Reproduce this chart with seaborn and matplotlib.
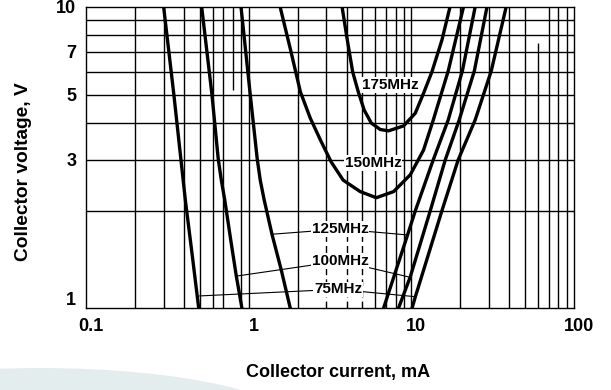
import matplotlib
matplotlib.use("Agg")
import matplotlib.pyplot as plt
import matplotlib.transforms as mtransforms
from matplotlib.patches import Ellipse
import pandas as pd
import seaborn as sns

# Constant transition-frequency contours (collector current in mA, collector voltage in V)
i_75_lo = [0.300, 0.347, 0.383, 0.408, 0.450, 0.493]
v_75_lo = [10.0, 4.99, 3.01, 2.18, 1.41, 0.93]
i_75_hi = [10.1, 10.6, 15.4, 19.4, 24.7, 31.0, 38.3]
v_75_hi = [0.93, 1.02, 2.00, 2.99, 4.10, 6.03, 10.0]

i_100_lo = [0.514, 0.595, 0.650, 0.679, 0.713, 0.776, 0.839, 0.909]
v_100_lo = [10.0, 4.99, 3.01, 2.55, 2.18, 1.59, 1.20, 0.93]
i_100_hi = [8.34, 9.85, 13.06, 16.16, 19.7, 24.4, 29.2]
v_100_hi = [0.93, 1.19, 2.00, 2.99, 4.10, 6.03, 10.0]

i_125_lo = [0.897, 1.023, 1.129, 1.178, 1.246, 1.391, 1.586, 1.802]
v_125_lo = [10.0, 4.99, 3.01, 2.55, 2.18, 1.665, 1.257, 0.93]
i_125_hi = [6.75, 9.48, 10.57, 13.63, 16.86, 20.6, 24.7]
v_125_hi = [0.93, 1.656, 2.00, 2.99, 4.10, 6.03, 10.0]

i_150 = [1.56, 1.81, 2.08, 2.39, 2.76, 3.22, 3.81, 4.85, 6.09, 7.78, 9.85, 11.88,
         13.65, 16.86, 20.94]
v_150 = [10.0, 7.11, 5.11, 4.16, 3.50, 2.94, 2.55, 2.33, 2.22, 2.33, 2.66, 3.23,
         4.10, 6.03, 10.0]

i_175 = [3.75, 4.04, 4.36, 4.72, 5.13, 5.67, 6.44, 7.24, 8.96, 10.57, 11.88, 13.39,
         15.42, 17.3]
v_175 = [10.0, 7.69, 5.98, 5.11, 4.43, 4.00, 3.80, 3.76, 3.91, 4.32, 5.05, 5.99,
         7.69, 10.0]

# Contour captions and where they sit
label_text = ["175MHz", "150MHz", "125MHz", "100MHz", "75MHz"]
label_i = [7.41, 5.81, 3.66, 3.66, 3.54]
label_v = [5.40, 2.92, 1.735, 1.349, 1.079]

# Leader lines: curve point -> caption -> curve point
leader_125_i = [1.391, 3.66, 9.44]
leader_125_v = [1.665, 1.735, 1.656]
leader_100_i = [0.847, 3.66, 9.85]
leader_100_v = [1.198, 1.349, 1.186]
leader_75_i = [0.499, 3.54, 10.57]
leader_75_v = [1.024, 1.079, 1.018]

x_ticks = [0.1, 1, 10, 100]
x_tick_labels = ["0.1", "1", "10", "100"]
y_ticks = [1, 3, 5, 7, 10]
y_tick_labels = ["1", "3", "5", "7", "10"]

x_grid = [0.2, 0.3, 0.4, 0.5, 0.6, 0.7, 0.9, 1, 2, 6, 7, 8, 9, 10, 20, 30, 40, 50, 70, 80, 90]
x_grid_split = [3, 4, 5]
y_grid = [2, 3, 4, 5, 6, 7, 8, 9]

branches = [
    ("75 lo", i_75_lo, v_75_lo), ("75 hi", i_75_hi, v_75_hi),
    ("100 lo", i_100_lo, v_100_lo), ("100 hi", i_100_hi, v_100_hi),
    ("125 lo", i_125_lo, v_125_lo), ("125 hi", i_125_hi, v_125_hi),
    ("150", i_150, v_150), ("175", i_175, v_175),
]
rows = []
for name, ii, vv in branches:
    for k, (a, b) in enumerate(zip(ii, vv)):
        rows.append({"branch": name, "step": k, "I": a, "V": b})
df = pd.DataFrame(rows)

sns.set_theme(style="white")
plt.rcParams["font.family"] = ["Liberation Sans", "DejaVu Sans"]
plt.rcParams["font.weight"] = "bold"

W, H = 611, 390
fig = plt.figure(figsize=(W / 100, H / 100), dpi=100)
fig.patch.set_facecolor("white")

# soft decorative swoosh in the lower-left corner
fig.patches.append(Ellipse((40 / W, 1 - 428 / H), 520 / W, 120 / H,
                           transform=fig.transFigure, facecolor="#e4eded",
                           edgecolor="none", zorder=0))

left, right, top, bottom = 86, 574, 6.7, 308.3
ax = fig.add_axes([left / W, 1 - bottom / H, (right - left) / W, (bottom - top) / H])
ax.set_facecolor("white")
ax.set_xscale("log")
ax.set_yscale("log")
ax.set_xlim(0.1, 100)
ax.set_ylim(0.929, 10)

grid_kw = dict(color="black", linewidth=1.0, zorder=1)
for g in y_grid:
    ax.axhline(g, **grid_kw)
for g in x_grid:
    ax.axvline(g, **grid_kw)
ax.vlines(0.8, 5.2, 10, **grid_kw)
ax.vlines(60, 0.929, 7.5, **grid_kw)
ax.vlines(x_grid_split, 1.75, 10, **grid_kw)
ax.vlines(x_grid_split, 0.929, 1.75, linestyles=(0, (5, 3)), **grid_kw)

for li, lv in [(leader_125_i, leader_125_v), (leader_100_i, leader_100_v),
               (leader_75_i, leader_75_v)]:
    ax.plot(li, lv, color="black", linewidth=0.8, zorder=2)

sns.lineplot(data=df, x="I", y="V", units="branch", estimator=None, sort=False,
             color="black", linewidth=2.4, legend=False, ax=ax, zorder=3)
ax.set_xlim(0.1, 100)
ax.set_ylim(0.929, 10)

for s, xi, yv in zip(label_text, label_i, label_v):
    ax.text(xi, yv, s, ha="center", va="center", fontsize=11, fontweight="bold",
            color="black", zorder=5,
            bbox=dict(facecolor="white", edgecolor="none", pad=0.6))

ax.set_xticks(x_ticks)
ax.set_xticklabels(x_tick_labels)
ax.set_yticks(y_ticks)
ax.set_yticklabels(y_tick_labels)
ax.minorticks_off()
ax.tick_params(axis="both", length=0, labelsize=13, colors="black")
ax.tick_params(axis="x", pad=7)
ax.tick_params(axis="y", pad=7)
shift = mtransforms.ScaledTranslation(5 / 100, 0, fig.dpi_scale_trans)
for lab in ax.get_xticklabels():
    lab.set_fontweight("bold")
    lab.set_transform(lab.get_transform() + shift)
for lab in ax.get_yticklabels():
    lab.set_fontweight("bold")

for sp in ax.spines.values():
    sp.set_color("black")
    sp.set_linewidth(1.0)
    sp.set_visible(True)

ax.set_xlabel("")
ax.set_ylabel("")
fig.text(338 / W, 1 - 373 / H, "Collector current, mA", ha="center", va="center",
         fontsize=13, fontweight="bold", color="black")
fig.text(24 / W, 1 - 172 / H, "Collector voltage, V", ha="center", va="center",
         rotation=90, fontsize=13.8, fontweight="bold", color="black")

fig.savefig("out.png", dpi=100, facecolor="white")
